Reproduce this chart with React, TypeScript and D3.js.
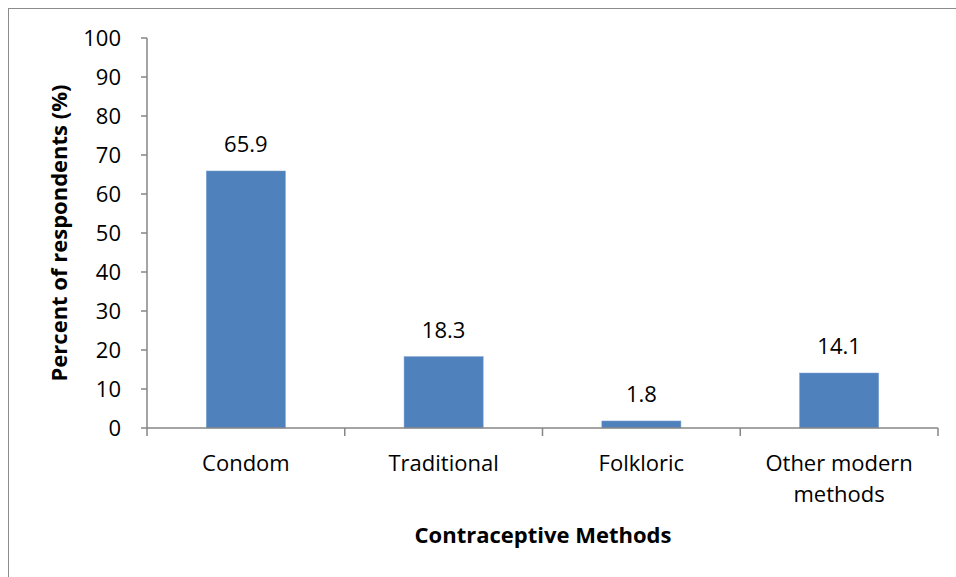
import React from "react";
import * as d3 from "d3";

const categories: string[] = ["Condom", "Traditional", "Folkloric", "Other modern methods"];
const percents: number[] = [65.9, 18.3, 1.8, 14.1];
const yTicks: number[] = [0, 10, 20, 30, 40, 50, 60, 70, 80, 90, 100];
const xTitle = "Contraceptive Methods";
const yTitle = "Percent of respondents (%)";

const W = 956;
const H = 577;
const margin = { left: 147, right: 18, top: 38, bottom: 149 };
const FONT = "'Open Sans', sans-serif";
const AXIS = "#868686";
const BAR = "#4f81bd";

function wrapLabel(text: string, maxWidth: number, font: string): string[] {
  const canvas = document.createElement("canvas");
  const ctx = canvas.getContext("2d");
  if (!ctx) return [text];
  ctx.font = font;
  const words = text.split(" ");
  const lines: string[] = [];
  let cur = "";
  for (const w of words) {
    const trial = cur ? cur + " " + w : w;
    if (cur && ctx.measureText(trial).width > maxWidth) {
      lines.push(cur);
      cur = w;
    } else {
      cur = trial;
    }
  }
  if (cur) lines.push(cur);
  return lines;
}

export default function App() {
  const x = d3
    .scaleBand<string>()
    .domain(categories)
    .range([margin.left, W - margin.right])
    .paddingInner(0.6)
    .paddingOuter(0.3);
  const step = x.step();
  const y = d3.scaleLinear().domain([0, 100]).range([H - margin.bottom, margin.top]);
  const y0 = y(0);
  const bounds = d3.range(categories.length + 1).map((i) => margin.left + i * ((W - margin.right - margin.left) / categories.length));

  return (
    <svg
      width={W}
      height={H}
      style={{ position: "absolute", left: 0, top: 0, background: "#fff" }}
      fontFamily={FONT}
    >
      <rect x={8.5} y={8.5} width={W + 20} height={H + 20} fill="#fff" stroke="#8c8c8c" strokeWidth={1} />

      {/* y axis */}
      <line x1={margin.left} x2={margin.left} y1={y(100)} y2={y0} stroke={AXIS} strokeWidth={1.5} />
      {yTicks.map((t) => (
        <g key={t}>
          <line x1={margin.left - 6} x2={margin.left} y1={y(t)} y2={y(t)} stroke={AXIS} strokeWidth={1.5} />
          <text x={121} y={y(t)} dy="0.36em" textAnchor="end" fontSize={22} fill="#000">
            {t}
          </text>
        </g>
      ))}

      {/* bars */}
      {categories.map((c, i) => (
        <rect
          key={c}
          x={x(c)}
          y={y(percents[i])}
          width={x.bandwidth()}
          height={y0 - y(percents[i])}
          fill={BAR}
          stroke="#7a9fd0"
          strokeWidth={0.5}
        />
      ))}

      {/* value labels */}
      {categories.map((c, i) => (
        <text
          key={c}
          x={(x(c) as number) + x.bandwidth() / 2}
          y={y(percents[i]) - 19}
          textAnchor="middle"
          fontSize={22}
          fill="#000"
        >
          {percents[i].toFixed(1)}
        </text>
      ))}

      {/* x axis */}
      <line x1={margin.left} x2={W - margin.right} y1={y0} y2={y0} stroke={AXIS} strokeWidth={1.5} />
      {bounds.map((b, i) => (
        <line key={i} x1={b} x2={b} y1={y0} y2={y0 + 8} stroke={AXIS} strokeWidth={1.5} />
      ))}
      {categories.map((c) => {
        const lines = wrapLabel(c, step * 0.82, `22px ${FONT}`);
        return (
          <text key={c} textAnchor="middle" fontSize={22} fill="#000">
            {lines.map((ln, j) => (
              <tspan key={j} x={(x(c) as number) + x.bandwidth() / 2} y={y0 + 43 + j * 31}>
                {ln}
              </tspan>
            ))}
          </text>
        );
      })}

      {/* axis titles */}
      <text x={543} y={543} textAnchor="middle" fontSize={22} fontWeight="bold" fill="#000">
        {xTitle}
      </text>
      <text
        transform={`translate(67, 233) rotate(-90)`}
        textAnchor="middle"
        fontSize={22}
        fontWeight="bold"
        fill="#000"
      >
        {yTitle}
      </text>
    </svg>
  );
}
